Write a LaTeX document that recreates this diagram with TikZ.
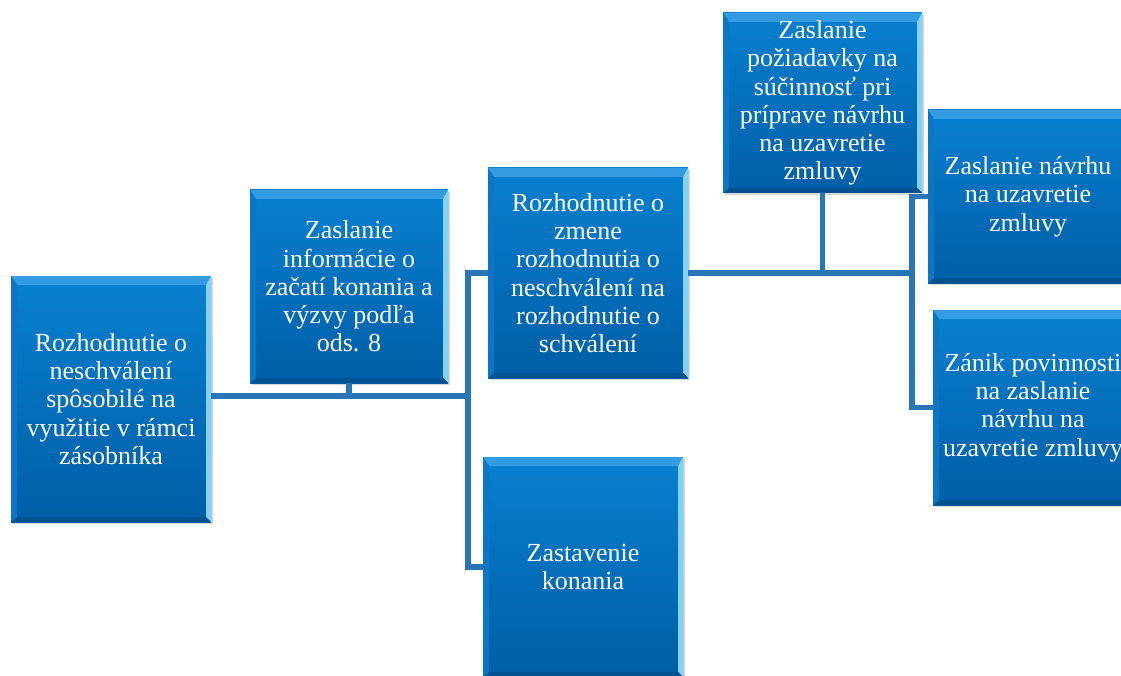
\documentclass[tikz,border=0pt]{standalone}
\usepackage{fontspec}
\setmainfont{Liberation Serif}
\usetikzlibrary{shadows}
\definecolor{boxtop}{RGB}{8,128,208}
\definecolor{boxbot}{RGB}{0,94,166}
\definecolor{bevtop}{RGB}{50,155,226}
\definecolor{bevright}{RGB}{130,210,245}
\definecolor{bevbot}{RGB}{0,82,145}
\definecolor{bevleft}{RGB}{12,118,196}
\definecolor{linec}{RGB}{40,118,182}
\tikzset{
  box/.style={rectangle, inner sep=0pt, top color=boxtop, bottom color=boxbot,
    text=white, align=center, font=\fontsize{26}{28.3}\selectfont,
    drop shadow={shadow xshift=2pt, shadow yshift=-2pt, opacity=0.3},
    path picture={
      \fill[bevtop] (path picture bounding box.north west) -- (path picture bounding box.north east)
        -- ([xshift=-5pt,yshift=-9pt]path picture bounding box.north east)
        -- ([xshift=6pt,yshift=-9pt]path picture bounding box.north west) -- cycle;
      \fill[bevright] (path picture bounding box.north east) -- (path picture bounding box.south east)
        -- ([xshift=-5pt,yshift=5pt]path picture bounding box.south east)
        -- ([xshift=-5pt,yshift=-9pt]path picture bounding box.north east) -- cycle;
      \fill[bevbot] (path picture bounding box.south west) -- (path picture bounding box.south east)
        -- ([xshift=-5pt,yshift=5pt]path picture bounding box.south east)
        -- ([xshift=6pt,yshift=5pt]path picture bounding box.south west) -- cycle;
      \fill[bevleft] (path picture bounding box.north west) -- (path picture bounding box.south west)
        -- ([xshift=6pt,yshift=5pt]path picture bounding box.south west)
        -- ([xshift=6pt,yshift=-9pt]path picture bounding box.north west) -- cycle;
    }},
  conn/.style={draw=linec, line width=5.5pt}
}
\begin{document}
\begin{tikzpicture}[x=1pt,y=-1pt]
\useasboundingbox (0,0) rectangle (1121,676);
\fill[white] (0,0) rectangle (1121,676);
\begin{scope}
\clip (0,0) rectangle (1121,676);
\coordinate (j1) at (468,396);
\coordinate (j2) at (912,273);
\node[box, minimum width=200pt, minimum height=246pt] (A) at (111,399)
  {Rozhodnutie o\\neschválení\\spôsobilé na\\využitie v rámci\\zásobníka};
\node[box, minimum width=198pt, minimum height=193pt] (B) at (349,286.5)
  {Zaslanie\\informácie o\\začatí konania a\\výzvy podľa\\ods. 8};
\node[box, minimum width=200pt, minimum height=210pt] (C) at (588,273)
  {Rozhodnutie o\\zmene\\rozhodnutia o\\neschválení na\\rozhodnutie o\\schválení};
\node[box, minimum width=199pt, minimum height=180pt] (D) at (822.5,103)
  {Zaslanie\\požiadavky na\\súčinnosť pri\\príprave návrhu\\na uzavretie\\zmluvy};
\node[box, minimum width=200pt, minimum height=173pt] (E) at (1028,196.5)
  {Zaslanie návrhu\\na uzavretie\\zmluvy};
\node[box, minimum width=200pt, minimum height=195pt] (F) at (1033,407.5)
  {Zánik povinnosti\\na zaslanie\\návrhu na\\uzavretie zmluvy};
\node[box, minimum width=200pt, minimum height=220pt] (G) at (583,567)
  {Zastavenie\\konania};
\draw[conn] (A.east |- j1) -- (j1);
\draw[conn] (B.south) -- (B.south |- j1);
\draw[conn] (C.west) -| (j1) |- (G.west);
\draw[conn] (C.east) -- (j2);
\draw[conn] (D.south) -- (D.south |- j2);
\draw[conn] (E.west) -| (j2) |- (F.west);
\end{scope}
\end{tikzpicture}
\end{document}
